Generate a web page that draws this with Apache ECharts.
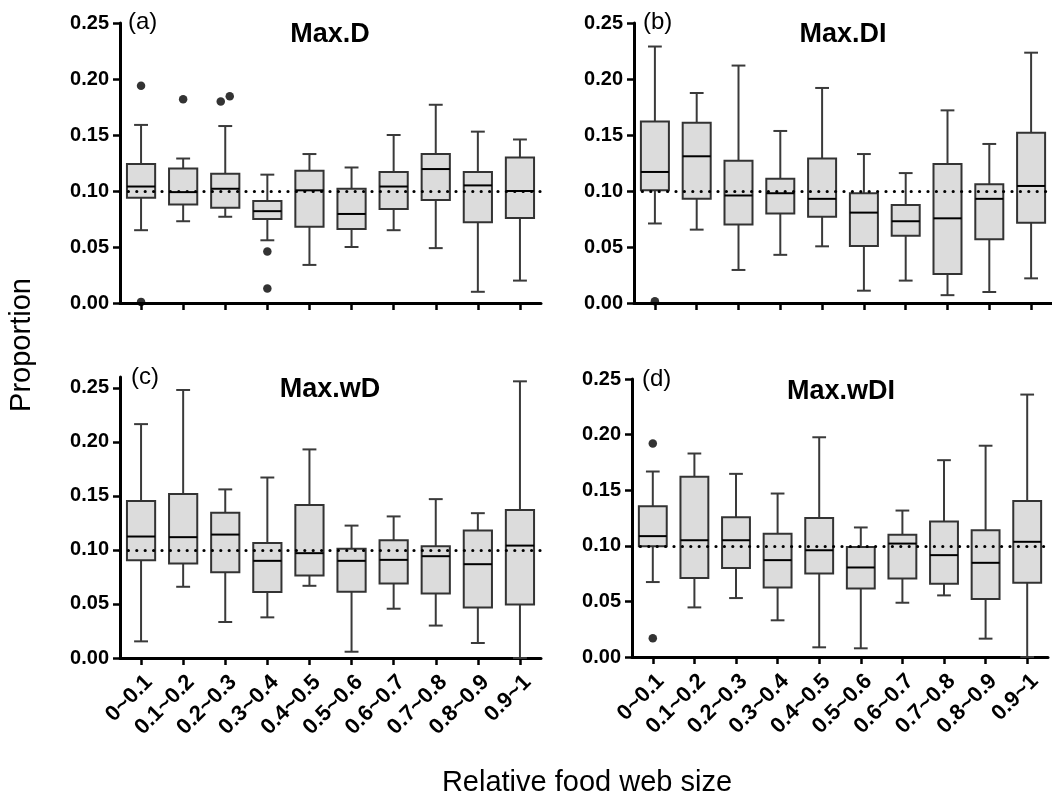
<!DOCTYPE html>
<html><head><meta charset="utf-8">
<script src="https://cdn.jsdelivr.net/npm/echarts@6/dist/echarts.min.js"></script>
<style>html,body{margin:0;padding:0;background:#fff}#c{width:1052px;height:802px}</style>
</head><body><div id="c"></div>
<script>
// ---------- data ----------
const categories = ['0~0.1','0.1~0.2','0.2~0.3','0.3~0.4','0.4~0.5','0.5~0.6','0.6~0.7','0.7~0.8','0.8~0.9','0.9~1'];
const yTickValues = [0, 0.05, 0.10, 0.15, 0.20, 0.25];
const panelTitles = ['Max.D', 'Max.DI', 'Max.wD', 'Max.wDI'];
const panelLetters = ['(a)', '(b)', '(c)', '(d)'];
const referenceValue = 0.10;

// Max.D
const maxD_low    = [0.065, 0.073, 0.077, 0.056, 0.034, 0.050, 0.065, 0.049, 0.010, 0.020];
const maxD_q1     = [0.094, 0.088, 0.085, 0.075, 0.068, 0.066, 0.084, 0.092, 0.072, 0.076];
const maxD_median = [0.104, 0.099, 0.102, 0.082, 0.1006, 0.0795, 0.104, 0.1196, 0.105, 0.100];
const maxD_q3     = [0.124, 0.120, 0.1155, 0.091, 0.118, 0.102, 0.117, 0.133, 0.117, 0.130];
const maxD_high   = [0.159, 0.129, 0.158, 0.1146, 0.133, 0.121, 0.150, 0.177, 0.153, 0.146];
const maxD_outliers = [[0, 0.194], [0, 0.001], [1, 0.182], [2, 0.180], [2, 0.1845], [3, 0.046], [3, 0.013]];

// Max.DI
const maxDI_low    = [0.071, 0.0655, 0.0295, 0.043, 0.0506, 0.011, 0.020, 0.007, 0.0098, 0.022];
const maxDI_q1     = [0.1006, 0.093, 0.070, 0.080, 0.077, 0.051, 0.060, 0.026, 0.057, 0.0717];
const maxDI_median = [0.117, 0.131, 0.096, 0.098, 0.093, 0.0807, 0.073, 0.0756, 0.093, 0.1045];
const maxDI_q3     = [0.162, 0.161, 0.127, 0.111, 0.129, 0.098, 0.0875, 0.124, 0.106, 0.152];
const maxDI_high   = [0.229, 0.1875, 0.212, 0.1536, 0.192, 0.133, 0.116, 0.172, 0.142, 0.2235];
const maxDI_outliers = [[0, 0.0015]];

// Max.wD
const maxwD_low    = [0.0154, 0.0659, 0.0333, 0.0376, 0.0668, 0.0058, 0.0456, 0.030, 0.0139, 0.0];
const maxwD_q1     = [0.0905, 0.0874, 0.0794, 0.061, 0.0764, 0.0613, 0.069, 0.0597, 0.0468, 0.0496];
const maxwD_median = [0.1124, 0.1118, 0.1142, 0.0899, 0.097, 0.0899, 0.0908, 0.0942, 0.0868, 0.104];
const maxwD_q3     = [0.1453, 0.1518, 0.1345, 0.1065, 0.1416, 0.101, 0.109, 0.1034, 0.118, 0.137];
const maxwD_high   = [0.2164, 0.248, 0.156, 0.167, 0.193, 0.1225, 0.131, 0.147, 0.134, 0.256];
const maxwD_outliers = [];

// Max.wDI
const maxwDI_low    = [0.0674, 0.0446, 0.053, 0.033, 0.0087, 0.0078, 0.0488, 0.0554, 0.0165, 0.0];
const maxwDI_q1     = [0.0997, 0.071, 0.080, 0.0626, 0.075, 0.0617, 0.0707, 0.0659, 0.0521, 0.0668];
const maxwDI_median = [0.1087, 0.105, 0.105, 0.0871, 0.096, 0.0805, 0.102, 0.0916, 0.0847, 0.1036];
const maxwDI_q3     = [0.1356, 0.162, 0.1257, 0.1108, 0.125, 0.099, 0.110, 0.1219, 0.114, 0.1404];
const maxwDI_high   = [0.1668, 0.183, 0.1647, 0.147, 0.1976, 0.1165, 0.1317, 0.177, 0.190, 0.236];
const maxwDI_outliers = [[0, 0.192], [0, 0.0168]];

// ---------- chart ----------
const FONT = "'Liberation Sans', Arial, sans-serif";
const panels = [
  {low: maxD_low, q1: maxD_q1, med: maxD_median, q3: maxD_q3, high: maxD_high, out: maxD_outliers, yMax: 0.25,
   grid: {left: 120, top: 23, width: 421, height: 280}, labels: false},
  {low: maxDI_low, q1: maxDI_q1, med: maxDI_median, q3: maxDI_q3, high: maxDI_high, out: maxDI_outliers, yMax: 0.25,
   grid: {left: 634, top: 23, width: 420, height: 280}, labels: false},
  {low: maxwD_low, q1: maxwD_q1, med: maxwD_median, q3: maxwD_q3, high: maxwD_high, out: maxwD_outliers, yMax: 0.26,
   grid: {left: 120, top: 377, width: 421, height: 281}, labels: true},
  {low: maxwDI_low, q1: maxwDI_q1, med: maxwDI_median, q3: maxwDI_q3, high: maxwDI_high, out: maxwDI_outliers, yMax: 0.25,
   grid: {left: 632, top: 379, width: 416, height: 278}, labels: true}
];

function renderBox(params, api) {
  const x = api.value(0);
  const lo = api.coord([x, api.value(1)]);
  const q1 = api.coord([x, api.value(2)]);
  const md = api.coord([x, api.value(3)]);
  const q3 = api.coord([x, api.value(4)]);
  const hi = api.coord([x, api.value(5)]);
  const band = api.size([1, 0])[0];
  const bw = band * 0.67, cw = band * 0.33;
  const cx = lo[0];
  const ws = {stroke: '#3a3a3a', lineWidth: 2};
  return {type: 'group', children: [
    {type: 'line', shape: {x1: cx, y1: hi[1], x2: cx, y2: q3[1]}, style: ws},
    {type: 'line', shape: {x1: cx, y1: q1[1], x2: cx, y2: lo[1]}, style: ws},
    {type: 'line', shape: {x1: cx - cw / 2, y1: hi[1], x2: cx + cw / 2, y2: hi[1]}, style: ws},
    {type: 'line', shape: {x1: cx - cw / 2, y1: lo[1], x2: cx + cw / 2, y2: lo[1]}, style: ws},
    {type: 'rect', shape: {x: cx - bw / 2, y: q3[1], width: bw, height: q1[1] - q3[1]},
     style: {fill: '#dcdcdc', stroke: '#333', lineWidth: 2}},
    {type: 'line', shape: {x1: cx - bw / 2, y1: md[1], x2: cx + bw / 2, y2: md[1]}, style: {stroke: '#000', lineWidth: 2}}
  ]};
}

function outlierData(list) {
  return list.map(function (p, i) {
    let off = 0;
    list.forEach(function (q, j) {
      if (j !== i && q[0] === p[0] && Math.abs(q[1] - p[1]) < 0.012) off = (p[1] < q[1]) ? -4.5 : 4.5;
    });
    return {value: [p[0], p[1]], symbolOffset: [off, 0]};
  });
}

const grids = [], xAxes = [], yAxes = [], series = [];
panels.forEach(function (p, k) {
  grids.push(p.grid);
  xAxes.push({
    type: 'category', gridIndex: k, data: categories, boundaryGap: true,
    axisLine: {show: true, lineStyle: {color: '#000', width: 3}},
    axisTick: {show: true, alignWithLabel: true, length: 7, lineStyle: {color: '#000', width: 2.5}},
    axisLabel: {show: p.labels, rotate: 45, align: 'right', verticalAlign: 'top', margin: 13, interval: 0,
      color: '#000', fontFamily: FONT, fontWeight: 'bold', fontSize: 22},
    splitLine: {show: false}
  });
  yAxes.push({
    type: 'value', gridIndex: k, min: 0, max: p.yMax, interval: 0.05,
    axisLine: {show: true, lineStyle: {color: '#000', width: 3}},
    axisTick: {show: true, length: 7, lineStyle: {color: '#000', width: 2.5}, customValues: yTickValues},
    axisLabel: {show: true, margin: 11, color: '#000', fontFamily: FONT, fontWeight: 'bold', fontSize: 20,
      customValues: yTickValues, formatter: function (v) { return v.toFixed(2); }},
    splitLine: {show: false}
  });
  series.push({
    type: 'custom', xAxisIndex: k, yAxisIndex: k, renderItem: renderBox, z: 2,
    encode: {x: 0, y: [1, 2, 3, 4, 5]},
    data: categories.map(function (c, i) { return [i, p.low[i], p.q1[i], p.med[i], p.q3[i], p.high[i]]; })
  });
  series.push({
    type: 'scatter', xAxisIndex: k, yAxisIndex: k, z: 5, symbol: 'circle', symbolSize: 8.5,
    itemStyle: {color: '#000'}, silent: true,
    data: outlierData(p.out),
    markLine: {silent: true, symbol: 'none', animation: false, label: {show: false},
      lineStyle: {color: '#000', type: [0, 8.4], cap: 'round', width: 3.2},
      emphasis: {disabled: true},
      data: [{yAxis: referenceValue}]}
  });
});

const titleGraphics = [
  {x: 330, y: 35}, {x: 843, y: 35}, {x: 330, y: 390}, {x: 841, y: 392}
].map(function (pos, k) {
  return {type: 'text', x: pos.x, y: pos.y, style: {text: panelTitles[k], font: 'bold 27px ' + FONT,
    fill: '#000', textAlign: 'center', textVerticalAlign: 'middle'}};
});
const letterGraphics = [
  {x: 128, y: 22}, {x: 643, y: 22}, {x: 131, y: 377}, {x: 642, y: 379}
].map(function (pos, k) {
  return {type: 'text', x: pos.x, y: pos.y, style: {text: panelLetters[k], font: '24px ' + FONT,
    fill: '#000', textAlign: 'left', textVerticalAlign: 'middle'}};
});

const chart = echarts.init(document.getElementById('c'), null, {renderer: 'canvas'});
chart.setOption({
  animation: false,
  backgroundColor: '#fff',
  grid: grids, xAxis: xAxes, yAxis: yAxes, series: series,
  graphic: titleGraphics.concat(letterGraphics).concat([
    {type: 'text', x: 22, y: 345, rotation: Math.PI / 2,
     style: {text: 'Proportion', font: '29px ' + FONT, fill: '#000', textAlign: 'center', textVerticalAlign: 'middle'}},
    {type: 'text', x: 587, y: 783,
     style: {text: 'Relative food web size', font: '29px ' + FONT, fill: '#000', textAlign: 'center', textVerticalAlign: 'middle'}}
  ])
});
</script>
</body></html>
